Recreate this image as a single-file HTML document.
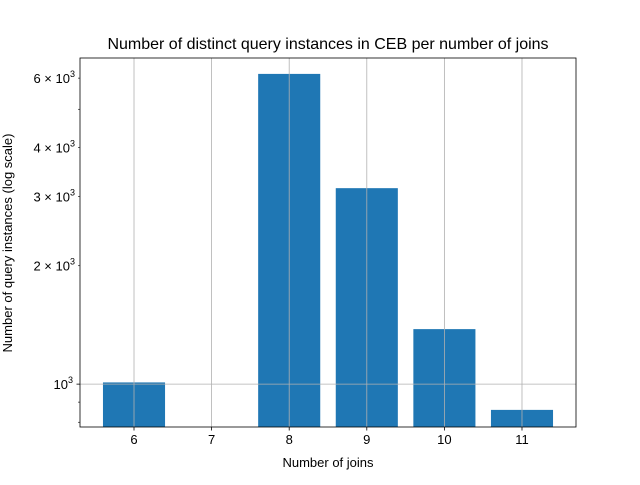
<!DOCTYPE html>
<html><head><meta charset="utf-8"><style>
body{margin:0;background:#fff}
svg{font-family:"Liberation Sans","DejaVu Sans",sans-serif}
</style></head><body>
<svg id="chart" width="640" height="480" viewBox="0 0 640 480">
<rect width="640" height="480" fill="#fff"/>
<text x="328" y="49" font-size="16" text-anchor="middle">Number of distinct query instances in CEB per number of joins</text>
<g id="bars"></g><g id="grid"></g><g id="axes"></g>
<text x="328" y="467" font-size="13" text-anchor="middle">Number of joins</text>
<text transform="translate(12,243) rotate(-90)" font-size="13" text-anchor="middle">Number of query instances (log scale)</text>
</svg>
<script>
const categories = [6, 7, 8, 9, 10, 11];
const values = [1010, 0, 6150, 3150, 1380, 860];
const majorTicks = [1000];
const labeledMinor = [2000, 3000, 4000, 6000];
const labeledMinorText = ["2", "3", "4", "6"];
const minorTicks = [800, 900, 2000, 3000, 4000, 5000, 6000];

const NS = "http://www.w3.org/2000/svg";
const L = 80, R = 576, T = 58, B = 427;
const xMin = 5.304, xMax = 11.696;
const yMin = Math.log10(778), yMax = Math.log10(6750);
const xs = v => L + (v - xMin) / (xMax - xMin) * (R - L);
const ys = v => B - (Math.log10(v) - yMin) / (yMax - yMin) * (B - T);
const bw = 0.8 * (xs(1) - xs(0));
function mk(tag, attrs, parent) {
  const e = document.createElementNS(NS, tag);
  for (const k in attrs) e.setAttribute(k, attrs[k]);
  parent.appendChild(e); return e;
}
const bars = document.getElementById('bars'), grid = document.getElementById('grid'), axes = document.getElementById('axes');
categories.forEach((c, i) => {
  if (values[i] > 0) {
    const top = Math.max(T, ys(values[i]));
    const r = mk('rect', {x: xs(c) - bw / 2, y: top, width: bw, height: B - top, fill: '#1f77b4'}, bars);
    
    
  }
  const g = mk('line', {x1: xs(c), x2: xs(c), y1: T, y2: B, stroke: '#b0b0b0', 'stroke-width': 0.8}, grid);
  
  
  mk('line', {x1: xs(c), x2: xs(c), y1: B, y2: B + 3.5, stroke: '#000', 'stroke-width': 0.8}, axes);
  const t = mk('text', {x: xs(c), y: B + 17, 'font-size': 13, 'text-anchor': 'middle'}, axes);
  t.textContent = c;
  
  
});
majorTicks.forEach(v => {
  const y = ys(v);
  const g = mk('line', {x1: L, x2: R, y1: y, y2: y, stroke: '#b0b0b0', 'stroke-width': 0.8}, grid);
  
  
  mk('line', {x1: L - 3.5, x2: L, y1: y, y2: y, stroke: '#000', 'stroke-width': 0.8}, axes);
  const t = mk('text', {x: L - 7, y: y + 5, 'font-size': 13, 'text-anchor': 'end'}, axes);
  t.innerHTML = '10<tspan font-size="9" dy="-6">3</tspan>';
  
  
});
minorTicks.forEach(v => {
  const y = ys(v);
  mk('line', {x1: L - 2, x2: L, y1: y, y2: y, stroke: '#000', 'stroke-width': 0.6}, axes);
});
labeledMinor.forEach((v, i) => {
  const y = ys(v);
  const t = mk('text', {x: L - 5, y: y + 5, 'font-size': 13, 'text-anchor': 'end'}, axes);
  t.innerHTML = labeledMinorText[i] + ' \u00d7 10<tspan font-size="9" dy="-6">3</tspan>';
  
  
});
const f = mk('rect', {x: L, y: T, width: R - L, height: B - T, fill: 'none', stroke: '#000', 'stroke-width': 0.8}, axes);


</script>
</body></html>
